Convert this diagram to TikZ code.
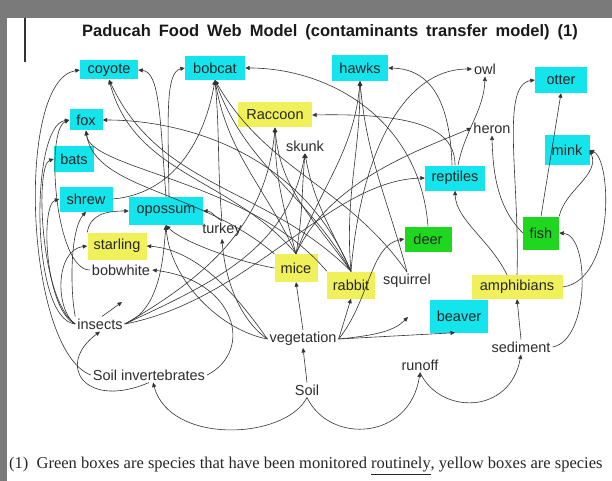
\documentclass[tikz,border=0pt]{standalone}
\usepackage{fontspec}
\setmainfont{Liberation Sans}
\newfontfamily\capfont{Liberation Serif}
\usetikzlibrary{arrows.meta}
\definecolor{bxcyan}{RGB}{20,228,236}
\definecolor{bxyellow}{RGB}{240,240,90}
\definecolor{bxgreen}{RGB}{30,215,30}
\definecolor{band}{RGB}{122,122,122}
\definecolor{ink}{RGB}{45,45,45}
\tikzset{
  bx/.style={inner sep=1pt, text=black!85, font=\fontsize{14.5}{15}\selectfont},
  cy/.style={bx, fill=bxcyan},
  ye/.style={bx, fill=bxyellow},
  gr/.style={bx, fill=bxgreen},
  lb/.style={inner sep=2pt, text=ink, font=\fontsize{14.5}{15}\selectfont},
  fw/.style={draw=black!80, line width=0.6pt, -{Triangle[length=4.5pt,width=4pt]}},
}
\begin{document}
\begin{tikzpicture}[x=1pt,y=-1pt]
\useasboundingbox (0,0) rectangle (612,481);
\fill[white] (0,0) rectangle (612,481);
\fill[band] (0,0) rectangle (612,18);
\fill[band] (0,0) rectangle (7,481);
\draw[black!80, line width=1.2pt] (25,18) -- (25,62);

\node[font=\bfseries\fontsize{16.5}{18}\selectfont, text=black!90] (title) at (330,32)
  {\spaceskip=8pt Paducah Food Web Model (contaminants transfer model) (1)};

% nodes
\node[cy, minimum width=58pt, minimum height=19pt] (coyote) at (109,70) {coyote};
\node[cy, minimum width=60pt, minimum height=24pt] (bobcat) at (215,68) {bobcat};
\node[cy, minimum width=56pt, minimum height=26pt] (hawks) at (360,68) {hawks};
\node[lb] (owl) at (485,69) {owl};
\node[cy, minimum width=52pt, minimum height=26pt] (otter) at (561,80) {otter};
\node[cy, minimum width=33pt, minimum height=21pt] (fox) at (86,120) {fox};
\node[ye, minimum width=74pt, minimum height=25pt] (raccoon) at (275,115) {Raccoon};
\node[lb] (skunk) at (305,146) {skunk};
\node[lb] (heron) at (492,128) {heron};
\node[cy, minimum width=45pt, minimum height=29pt] (mink) at (567,150) {mink};
\node[cy, minimum width=40pt, minimum height=25pt] (bats) at (74,159) {bats};
\node[cy, minimum width=60pt, minimum height=25pt] (reptiles) at (455,178) {reptiles};
\node[cy, minimum width=53pt, minimum height=25pt] (shrew) at (86,199) {shrew};
\node[cy, minimum width=74pt, minimum height=28pt] (opossum) at (166,211) {opossum};
\node[lb] (turkey) at (222,230) {turkey};
\node[ye, minimum width=59pt, minimum height=27pt] (starling) at (117,246) {starling};
\node[gr, minimum width=47pt, minimum height=25pt] (deer) at (428,239) {deer};
\node[gr, minimum width=36pt, minimum height=33pt] (fish) at (541,233) {fish};
\node[lb] (bobwhite) at (121,270) {bobwhite};
\node[ye, minimum width=43pt, minimum height=28pt] (mice) at (296,268) {mice};
\node[ye, minimum width=48pt, minimum height=27pt] (rabbit) at (351,285) {rabbit};
\node[lb] (squirrel) at (407,281) {squirrel};
\node[ye, minimum width=91pt, minimum height=24pt] (amphibians) at (517,287) {amphibians};
\node[cy, minimum width=58pt, minimum height=33pt] (beaver) at (459,316) {beaver};
\node[lb] (insects) at (100,324) {insects};
\node[lb] (vegetation) at (303,339) {vegetation};
\node[lb] (sediment) at (521,347) {sediment};
\node[lb] (runoff) at (420,365) {runoff};
\node[lb] (SI) at (149,375) {Soil invertebrates};
\node[lb] (soil) at (307,390) {Soil};
\coordinate (sqin) at (408,317);
\coordinate (insup) at (122,302);

% coyote
\draw[fw] (SI.west) .. controls (25,350) and (15,80) .. (coyote.west);
\draw[fw] (opossum.north) .. controls (160,120) and (160,72) .. (coyote.east);
\draw[fw] (mice.north) to[out=130,in=-75] (coyote.south);
\draw[fw] (rabbit.north) to[out=135,in=-65] (coyote.south);
% bobcat
\draw[fw] ([xshift=3pt]opossum.north) .. controls (168,120) and (165,72) .. (bobcat.west);
\draw[fw] (shrew.east) to[out=5,in=-100] (bobcat.south);
\draw[fw] (turkey.north) to[out=95,in=-85] (bobcat.south);
\draw[fw] (mice.north) to[out=115,in=-80] (bobcat.south);
\draw[fw] (rabbit.north) to[out=120,in=-70] (bobcat.south);
\draw[fw] (squirrel.north) to[out=125,in=-60] (bobcat.south);
\draw[fw] (deer.north) .. controls (420,120) and (330,68) .. (bobcat.east);
% hawks
\draw[fw] (mice.north) to[out=70,in=-95] (hawks.south);
\draw[fw] (rabbit.north) to[out=95,in=-90] (hawks.south);
\draw[fw] (squirrel.north) to[out=105,in=-85] (hawks.south);
\draw[fw] ([xshift=-3pt]reptiles.north) .. controls (450,100) and (430,69) .. (hawks.east);
% owl
\draw[fw] (rabbit.north) .. controls (360,160) and (400,69) .. (owl.west);
\draw[fw] ([xshift=3pt]reptiles.north) .. controls (465,130) and (484,110) .. (owl.south);
% heron
\draw[fw] (mice.north) .. controls (330,180) and (420,150) .. (heron.west);
\draw[fw] (fish.west) .. controls (500,210) and (493,180) .. (heron.south);
% otter
\draw[fw] (amphibians.north) .. controls (520,180) and (500,85) .. (otter.west);
\draw[fw] (fish.north) -- (otter.south);
% mink
\draw[fw] (fish.north east) .. controls (565,190) and (600,175) .. (mink.east);
\draw[fw] (amphibians.east) .. controls (615,280) and (612,160) .. (mink.east);
% fish
\draw[fw] (sediment.east) .. controls (590,340) and (590,235) .. (fish.east);
% reptiles
\draw[fw] ([xshift=-10pt]amphibians.north) .. controls (490,240) and (456,220) .. (reptiles.south);
\draw[fw] (insects.east) .. controls (250,300) and (330,180) .. (reptiles.west);
% raccoon
\draw[fw] (reptiles.north) .. controls (455,130) and (420,113) .. (raccoon.east);
\draw[fw] (mice.north) to[out=105,in=-90] (raccoon.south);
\draw[fw] (rabbit.north) to[out=125,in=-85] (raccoon.south);
\draw[fw] (insects.east) to[out=30,in=-95] (raccoon.south);
% skunk
\draw[fw] (mice.north) to[out=80,in=-95] (skunk.south);
\draw[fw] (insects.east) to[out=25,in=-100] (skunk.south);
\draw[fw] (rabbit.north) to[out=115,in=-80] (skunk.south);
% fox
\draw[fw] (rabbit.north) .. controls (300,150) and (180,120) .. (fox.east);
\draw[fw] (mice.north west) .. controls (200,190) and (95,190) .. (fox.south);
\draw[fw] (rabbit.north west) .. controls (250,180) and (90,170) .. (fox.south);
\draw[fw] (insects.west) .. controls (30,320) and (30,125) .. (fox.west);
\draw[fw] (bobwhite.west) .. controls (55,270) and (45,130) .. (fox.west);
% bats, shrew
\draw[fw] (insects.west) .. controls (40,300) and (35,165) .. (bats.west);
\draw[fw] (insects.west) .. controls (45,310) and (40,205) .. (shrew.west);
\draw[fw] (insects.north west) .. controls (70,290) and (70,230) .. (shrew.south);
% starling
\draw[fw] (insects.west) .. controls (55,310) and (55,250) .. (starling.west);
\draw[fw] (vegetation.west) .. controls (240,300) and (200,250) .. (starling.east);
% opossum
\draw[fw] (starling.north west) .. controls (90,215) and (105,211) .. (opossum.west);
\draw[fw] (turkey.north) to[out=150,in=0] (opossum.east);
\draw[fw] (insects.east) .. controls (160,310) and (163,260) .. (opossum.south);
\draw[fw] (vegetation.west) .. controls (220,330) and (170,280) .. (opossum.south);
\draw[fw] (mice.west) .. controls (230,260) and (180,240) .. (opossum.south);
% bobwhite, turkey
\draw[fw] (SI.east) .. controls (255,350) and (235,280) .. (bobwhite.east);
\draw[fw] (vegetation.west) .. controls (240,320) and (225,280) .. (turkey.south);
% vegetation to herbivores
\draw[fw] (vegetation.north) -- (mice.south);
\draw[fw] (vegetation.east) -- (rabbit.south);
\draw[fw] (vegetation.east) .. controls (370,300) and (370,245) .. (deer.west);
\draw[fw] (vegetation.east) .. controls (380,335) and (395,330) .. (sqin);
\draw[fw] (vegetation.east) -- ([xshift=-4pt]beaver.south);
% amphibians
\draw[fw] (sediment.north) -- (amphibians.south);
% soil and others
\draw[fw] (soil.north) -- (vegetation.south);
\draw[fw] (soil.south) .. controls (285,440) and (170,445) .. ([xshift=4pt]SI.south);
\draw[fw] (soil.south) .. controls (330,445) and (410,440) .. (runoff.south);
\draw[fw] (runoff.south) .. controls (440,415) and (510,415) .. (sediment.south);
\draw[fw] (SI.south) .. controls (85,410) and (55,365) .. (insects.south);
\draw[fw] ([xshift=2pt]insects.north) -- (insup);

% caption
\node[anchor=west, inner sep=0pt, font=\capfont\fontsize{16.5}{18}\selectfont, text=black!85] (cap) at (9,466)
  {(1)\ \ Green boxes are species that have been monitored \underline{routinely}, yellow boxes are species};
\end{tikzpicture}
\end{document}
